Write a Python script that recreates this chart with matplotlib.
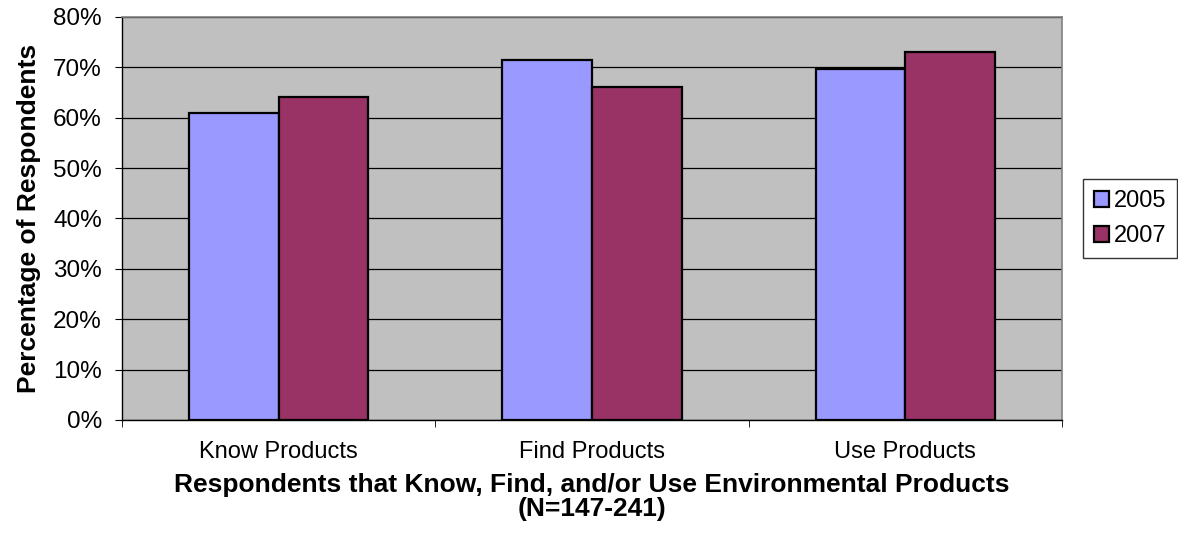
import numpy as np
import matplotlib
matplotlib.use('Agg')
from matplotlib import pyplot as plt

plt.rcParams['font.family'] = ['Liberation Sans', 'DejaVu Sans']

categories = ['Know Products', 'Find Products', 'Use Products']
series_names = ['2005', '2007']
vals_2005 = [60.9, 71.4, 69.7]
vals_2007 = [64.2, 66.1, 73.0]
y_ticks = [0, 10, 20, 30, 40, 50, 60, 70, 80]

fig = plt.figure(figsize=(11.78, 5.48), dpi=100)
ax = fig.add_axes([0.1036, 0.2336, 0.7979, 0.7354])
ax.set_facecolor('#C0C0C0')

x = np.arange(len(categories))
w = 1 / 3.5
ax.bar(x - w / 2, vals_2005, w, color='#9999FF', edgecolor='black', linewidth=1.6, label=series_names[0], zorder=3)
ax.bar(x + w / 2, vals_2007, w, color='#993366', edgecolor='black', linewidth=1.6, label=series_names[1], zorder=3)

ax.set_xlim(-0.5, len(categories) - 0.5)
ax.set_ylim(0, 80)
ax.set_yticks(y_ticks)
ax.set_yticklabels([f'{t}%' for t in y_ticks], fontsize=17.5)
ax.yaxis.grid(True, color='black', linewidth=0.9, zorder=1)
ax.set_axisbelow(True)

ax.set_xticks(x)
ax.set_xticklabels(categories, fontsize=17)
ax.tick_params(axis='x', length=0, pad=15)
ax.set_xticks(np.arange(len(categories) + 1) - 0.5, minor=True)
ax.tick_params(axis='x', which='minor', length=5, direction='out', color='black')
ax.tick_params(axis='y', length=5, direction='out', color='black', pad=9.5)

for s in ['top', 'right']:
    ax.spines[s].set_color('#808080')
    ax.spines[s].set_linewidth(1.2)
for s in ['left', 'bottom']:
    ax.spines[s].set_color('black')
    ax.spines[s].set_linewidth(1.0)

ax.set_ylabel('Percentage of Respondents', fontsize=19, fontweight='bold', labelpad=9)
ax.set_xlabel('Respondents that Know, Find, and/or Use Environmental Products\n(N=147-241)',
              fontsize=19, fontweight='bold', labelpad=7, linespacing=1.05)

leg = ax.legend(loc='center left', bbox_to_anchor=(1.0223, 0.5), fontsize=17,
                frameon=True, fancybox=False, edgecolor='black', handlelength=0.65,
                handleheight=0.65, handletextpad=0.2, borderpad=0.45, labelspacing=0.55,
                borderaxespad=0)
leg.get_frame().set_linewidth(1.0)

fig.savefig('out.png', dpi=100)
